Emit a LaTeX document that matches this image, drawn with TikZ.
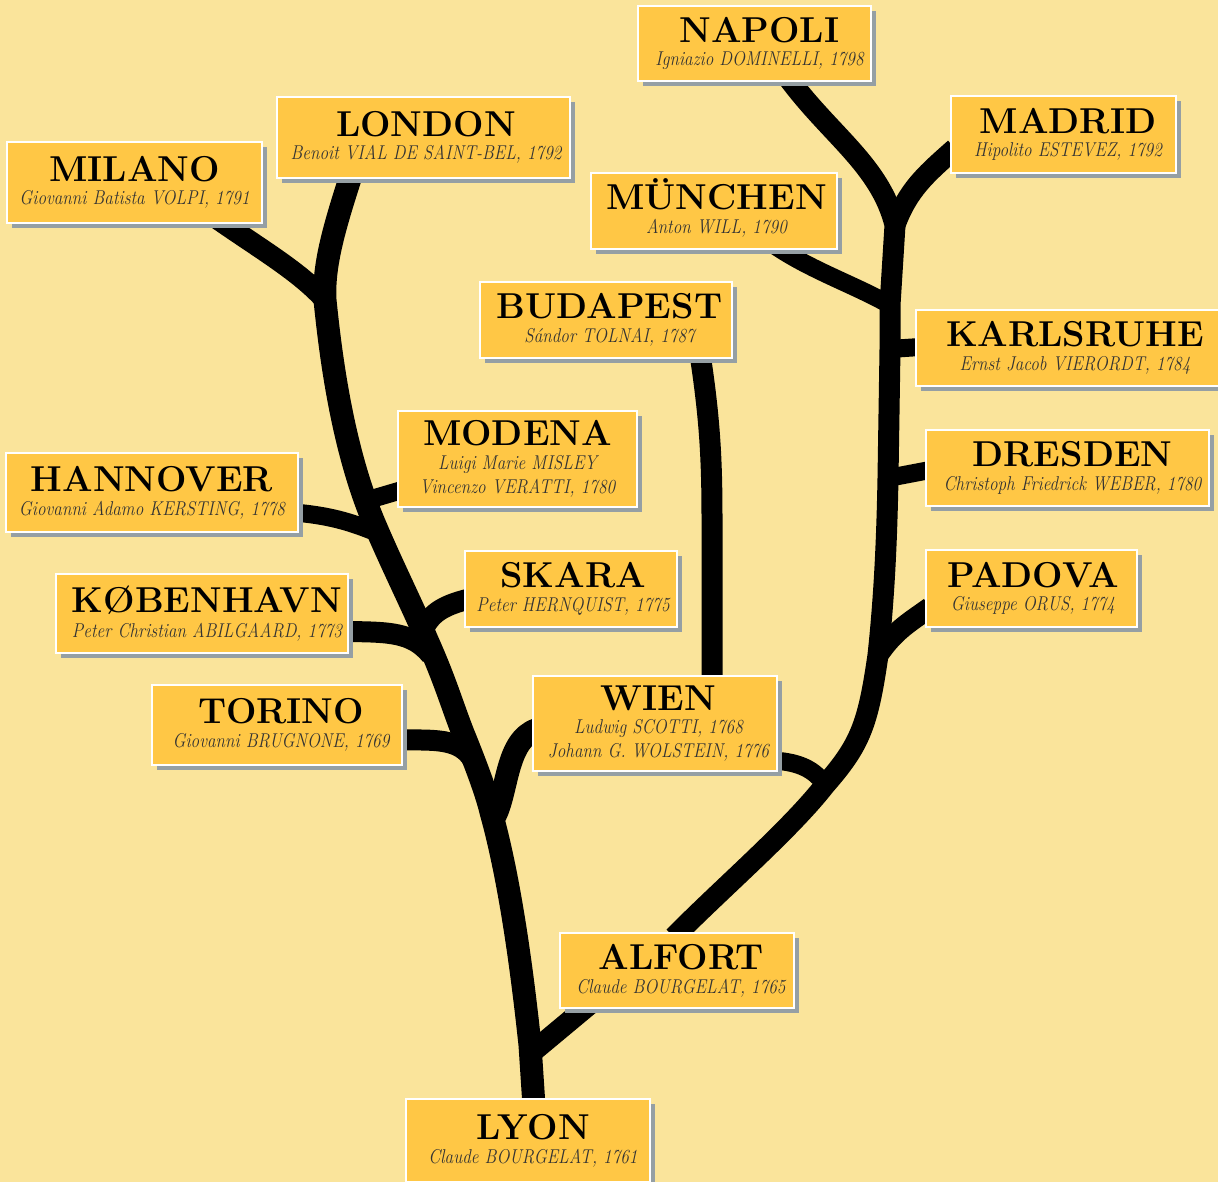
\documentclass[tikz,border=0pt]{standalone}
\usepackage{fontspec}
\usetikzlibrary{shadows}
\newfontfamily\titlefam[FakeStretch=1.0]{Latin Modern Roman}
\newfontfamily\subfam[FakeStretch=0.86]{Latin Modern Roman}
\def\txs{0pt}
\newcommand{\ttl}[1]{\hspace*{\txs}{\fontsize{36}{38}\selectfont\titlefam\bfseries #1}}
\newcommand{\sbt}[1]{\hspace*{\txs}{\fontsize{20}{24}\selectfont\subfam\itshape\color{black!80} #1}}
\definecolor{pagebg}{HTML}{FAE49B}
\definecolor{boxfill}{HTML}{FFC745}
\definecolor{shadowc}{HTML}{959FA4}
\pgfdeclarelayer{bg}
\pgfsetlayers{bg,main}
\tikzset{
  citybox/.style={draw=white,line width=2pt,fill=boxfill,align=center,inner sep=0pt,
    drop shadow={shadow xshift=5pt,shadow yshift=-5pt,fill=shadowc,opacity=1}},
  tx/.code={\def\txs{#1}},
  trunk/.style={draw=black,line width=23pt,line cap=butt,line join=round},
  limb/.style={draw=black,line width=21pt,line cap=butt,line join=round},
  twig/.style={draw=black,line width=18pt,line cap=butt,line join=round},
}
\begin{document}
\begin{tikzpicture}[x=1pt,y=-1pt]
\useasboundingbox (0,0) rectangle (1218,1182);
\begin{pgfonlayer}{bg}
\fill[pagebg] (0,0) rectangle (1218,1182);
\end{pgfonlayer}
\node[citybox,tx=10pt,minimum width=233pt,minimum height=75pt] (napoli) at (754.5,43.5) {\ttl{NAPOLI}\\[8pt]\sbt{Igniazio DOMINELLI, 1798}};
\node[citybox,tx=9pt,minimum width=225pt,minimum height=77pt] (madrid) at (1063.5,134.5) {\ttl{MADRID}\\[8pt]\sbt{Hipolito ESTEVEZ, 1792}};
\node[citybox,tx=5pt,minimum width=293pt,minimum height=81pt] (london) at (423.5,137.5) {\ttl{LONDON}\\[8pt]\sbt{Benoit VIAL DE SAINT-BEL, 1792}};
\node[citybox,minimum width=255pt,minimum height=81pt] (milano) at (134.5,182.5) {\ttl{MILANO}\\[8pt]\sbt{Giovanni Batista VOLPI, 1791}};
\node[citybox,tx=5pt,minimum width=246pt,minimum height=76pt] (munchen) at (714,211) {\ttl{\rule{0pt}{25pt}\smash{MÜNCHEN}}\\[8pt]\sbt{Anton WILL, 1790}};
\node[citybox,tx=7pt,minimum width=252pt,minimum height=76pt] (budapest) at (606,320) {\ttl{BUDAPEST}\\[8pt]\sbt{Sándor TOLNAI, 1787}};
\node[citybox,tx=14pt,minimum width=304pt,minimum height=76pt] (karlsruhe) at (1068,348) {\ttl{KARLSRUHE}\\[8pt]\sbt{Ernst Jacob VIERORDT, 1784}};
\node[citybox,minimum width=239pt,minimum height=96pt] (modena) at (517.5,459) {\ttl{MODENA}\\[8pt]\sbt{Luigi Marie MISLEY}\\[5pt]\sbt{Vincenzo VERATTI, 1780}};
\node[citybox,tx=10pt,minimum width=283pt,minimum height=76pt] (dresden) at (1067.5,468) {\ttl{DRESDEN}\\[8pt]\sbt{Christoph Friedrick WEBER, 1780}};
\node[citybox,minimum width=292pt,minimum height=79pt] (hannover) at (152,492.5) {\ttl{HANNOVER}\\[8pt]\sbt{Giovanni Adamo KERSTING, 1778}};
\node[citybox,tx=4pt,minimum width=212pt,minimum height=76pt] (skara) at (571,589) {\ttl{SKARA}\\[8pt]\sbt{Peter HERNQUIST, 1775}};
\node[citybox,tx=3pt,minimum width=211pt,minimum height=77pt] (padova) at (1031.5,588.5) {\ttl{PADOVA}\\[8pt]\sbt{Giuseppe ORUS, 1774}};
\node[citybox,tx=10pt,minimum width=292pt,minimum height=79pt] (kobenhavn) at (202,613.5) {\ttl{KØBENHAVN}\\[8pt]\sbt{Peter Christian ABILGAARD, 1773}};
\node[citybox,tx=8pt,minimum width=250pt,minimum height=80pt] (torino) at (277,725) {\ttl{TORINO}\\[8pt]\sbt{Giovanni BRUGNONE, 1769}};
\node[citybox,tx=7pt,minimum width=244pt,minimum height=95pt] (wien) at (655,723.5) {\ttl{WIEN}\\[8pt]\sbt{Ludwig SCOTTI, 1768}\\[5pt]\sbt{Johann G. WOLSTEIN, 1776}};
\node[citybox,tx=8pt,minimum width=234pt,minimum height=75pt] (alfort) at (677,970.5) {\ttl{ALFORT}\\[8pt]\sbt{Claude BOURGELAT, 1765}};
\node[citybox,tx=10pt,minimum width=244pt,minimum height=83pt] (lyon) at (528,1140.5) {\ttl{LYON}\\[8pt]\sbt{Claude BOURGELAT, 1761}};
\coordinate (jlyon) at (530,1045);
\coordinate (jalf) at (530,1054);
\coordinate (jwien) at (491,812);
\coordinate (jwleaf) at (495,816);
\coordinate (jtorino) at (463,733);
\coordinate (jtor2) at (473,760);
\coordinate (jkob) at (427,640);
\coordinate (jkob2) at (431,655);
\coordinate (jskara) at (424,628);
\coordinate (jhan) at (375,525);
\coordinate (jhan2) at (378,533);
\coordinate (jmod) at (368,500);
\coordinate (jmil) at (325,300);
\coordinate (jwr) at (825,785);
\coordinate (jpad) at (878,655);
\coordinate (jdre) at (888,478);
\coordinate (jkar) at (890,349);
\coordinate (jmun) at (890,305);
\coordinate (jnap) at (895,225);
\begin{pgfonlayer}{bg}
\draw[trunk] ([xshift=6pt,yshift=-8pt]lyon.north) -- (jlyon)
  .. controls (522,970) and (510,880) .. (jwien)
  .. controls (487,795) and (478,770) .. (jtorino)
  .. controls (452,705) and (445,680) .. (jkob)
  .. controls (412,605) and (392,565) .. (jhan)
  .. controls (345,455) and (332,370) .. (jmil)
  .. controls (323,265) and (335,225) .. ([xshift=-72pt,yshift=5pt]london.south);
\draw[limb] ([xshift=83pt,yshift=5pt]milano.south) .. controls (262,250) and (300,272) .. (jmil);
\draw[limb] (jalf) -- ([xshift=-87pt,yshift=5pt]alfort.south);
\draw[limb] ([xshift=-3pt,yshift=-5pt]alfort.north) .. controls (720,890) and (790,830) .. (jwr)
  .. controls (860,745) and (868,725) .. (jpad)
  .. controls (885,590) and (887,530) .. (jdre)
  -- (jkar) -- (jmun) -- (jnap)
  .. controls (880,165) and (830,135) .. ([xshift=33pt,yshift=5pt]napoli.south);
\draw[limb] (jnap) .. controls (908,190) and (925,175) .. ([xshift=5pt,yshift=-14pt]madrid.west);
\draw[twig] (jmun) .. controls (855,285) and (810,270) .. ([xshift=60pt,yshift=5pt]munchen.south);
\draw[twig] (jkar) -- ([xshift=5pt,yshift=1pt]karlsruhe.west);
\draw[twig] (jdre) -- ([xshift=5pt,yshift=-2pt]dresden.west);
\draw[limb] (jpad) .. controls (895,630) and (910,622) .. ([xshift=5pt,yshift=-19pt]padova.west);
\draw[limb] ([xshift=94pt,yshift=5pt]budapest.south) .. controls (710,420) and (712,460) .. (712,520) -- ([xshift=57pt,yshift=-5pt]wien.north);
\draw[twig] (jmod) -- ([xshift=5pt,yshift=-31pt]modena.west);
\draw[twig] ([xshift=-5pt,yshift=-20pt]hannover.east) .. controls (335,516) and (355,524) .. (jhan2);
\draw[limb] (jskara) .. controls (432,612) and (445,605) .. ([xshift=5pt,yshift=-10pt]skara.west);
\draw[limb] ([xshift=-5pt,yshift=-18pt]kobenhavn.east) .. controls (390,632) and (412,632) .. (jkob2);
\draw[limb] ([xshift=-5pt,yshift=-15pt]torino.east) .. controls (435,740) and (460,738) .. (jtor2);
\draw[trunk] (jwleaf) .. controls (508,790) and (506,740) .. ([xshift=5pt,yshift=-6pt]wien.west);
\draw[twig] ([xshift=-5pt,yshift=-37pt]wien.east) .. controls (800,762) and (815,770) .. (jwr);
\end{pgfonlayer}
\end{tikzpicture}
\end{document}
